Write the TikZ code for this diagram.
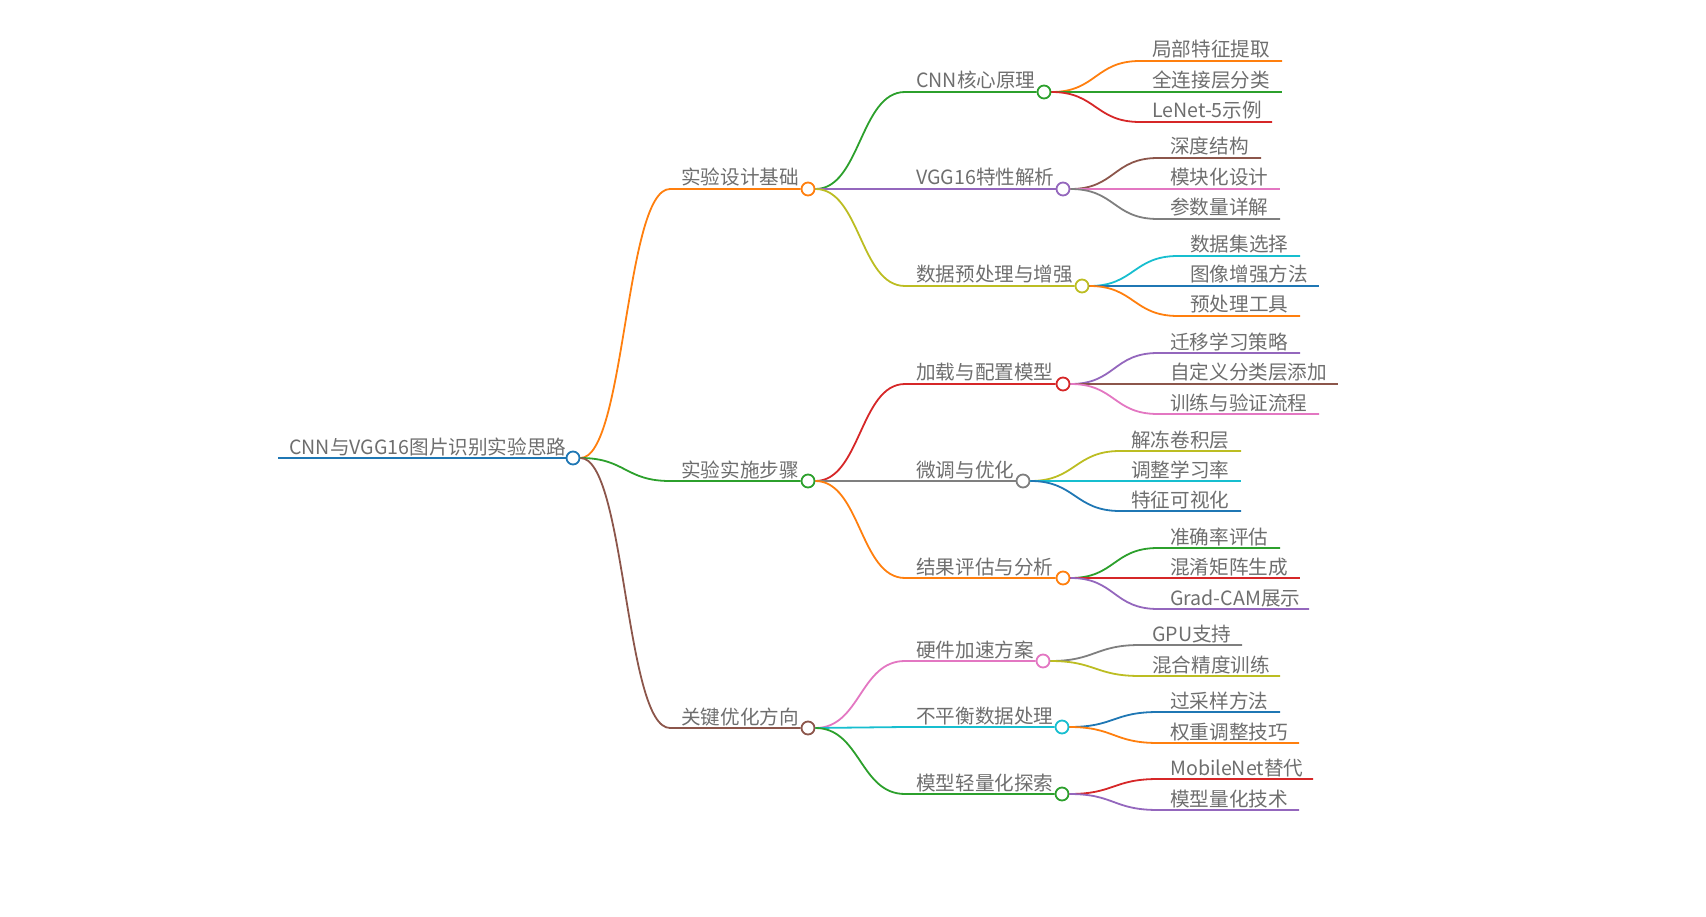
\documentclass[tikz,border=0pt]{standalone}
\usepackage{fontspec}
\setmainfont{Noto Sans CJK SC}
\usepackage{tikz}
\usetikzlibrary{positioning}
\definecolor{mmblue}{HTML}{1F77B4}
\definecolor{mmorange}{HTML}{FF7F0E}
\definecolor{mmgreen}{HTML}{2CA02C}
\definecolor{mmred}{HTML}{D62728}
\definecolor{mmpurple}{HTML}{9467BD}
\definecolor{mmbrown}{HTML}{8C564B}
\definecolor{mmpink}{HTML}{E377C2}
\definecolor{mmgray}{HTML}{7F7F7F}
\definecolor{mmolive}{HTML}{BCBD22}
\definecolor{mmcyan}{HTML}{17BECF}
\definecolor{txtgray}{HTML}{6E6E6E}
\tikzset{
  lbl/.style={text=txtgray, font=\fontsize{19.6}{22}\selectfont, inner sep=0pt, anchor=base west, yshift=-2pt},
  dot/.style={circle, draw=#1, fill=white, line width=1.8pt, minimum size=13pt, inner sep=0pt},
  edge/.style={draw=#1, line width=1.8pt},
}

\begin{document}
\begin{tikzpicture}[x=1pt, y=-1pt]
    \useasboundingbox (0,0) rectangle (1706,917);

      % root
      \node[lbl] (root) at (289,452) {CNN与VGG16图片识别实验思路};
      \coordinate (root-s) at (278,458);
      \node[dot=mmblue] (root-c) at (573,458) {};

      % first level
      \node[lbl] (base) at (681,183) {实验设计基础};
      \coordinate (base-s) at (670,189);
      \node[dot=mmorange] (base-c) at (808,189) {};
      \node[lbl] (impl) at (681,475) {实验实施步骤};
      \coordinate (impl-s) at (670,481);
      \node[dot=mmgreen] (impl-c) at (808,481) {};
      \node[lbl] (opt) at (681,722) {关键优化方向};
      \coordinate (opt-s) at (670,728);
      \node[dot=mmbrown] (opt-c) at (808,728) {};

      % second level
      \node[lbl] (cnn) at (916,86) {CNN核心原理};
      \coordinate (cnn-s) at (905,92);
      \node[dot=mmgreen] (cnn-c) at (1044,92) {};
      \node[lbl] (vgg) at (916,183) {VGG16特性解析};
      \coordinate (vgg-s) at (905,189);
      \node[dot=mmpurple] (vgg-c) at (1063,189) {};
      \node[lbl] (prep) at (916,280) {数据预处理与增强};
      \coordinate (prep-s) at (905,286);
      \node[dot=mmolive] (prep-c) at (1082,286) {};
      \node[lbl] (load) at (916,378) {加载与配置模型};
      \coordinate (load-s) at (905,384);
      \node[dot=mmred] (load-c) at (1063,384) {};
      \node[lbl] (tune) at (916,475) {微调与优化};
      \coordinate (tune-s) at (905,481);
      \node[dot=mmgray] (tune-c) at (1023,481) {};
      \node[lbl] (eval) at (916,572) {结果评估与分析};
      \coordinate (eval-s) at (905,578);
      \node[dot=mmorange] (eval-c) at (1063,578) {};
      \node[lbl] (hw) at (916,655) {硬件加速方案};
      \coordinate (hw-s) at (905,661);
      \node[dot=mmpink] (hw-c) at (1043,661) {};
      \node[lbl] (imb) at (916,721) {不平衡数据处理};
      \coordinate (imb-s) at (905,727);
      \node[dot=mmcyan] (imb-c) at (1062,727) {};
      \node[lbl] (lite) at (916,788) {模型轻量化探索};
      \coordinate (lite-s) at (905,794);
      \node[dot=mmgreen] (lite-c) at (1062,794) {};

      % leaves of CNN
      \node[lbl] (feat) at (1152,55) {局部特征提取};
      \coordinate (feat-s) at (1140,61); \coordinate (feat-e) at (1282,61);
      \node[lbl] (fc) at (1152,86) {全连接层分类};
      \coordinate (fc-s) at (1140,92); \coordinate (fc-e) at (1282,92);
      \node[lbl] (lenet) at (1152,116) {LeNet-5示例};
      \coordinate (lenet-s) at (1140,122); \coordinate (lenet-e) at (1272,122);

      % leaves of VGG16
      \node[lbl] (depth) at (1170,152) {深度结构};
      \coordinate (depth-s) at (1158,158); \coordinate (depth-e) at (1261,158);
      \node[lbl] (module) at (1170,183) {模块化设计};
      \coordinate (module-s) at (1158,189); \coordinate (module-e) at (1280,189);
      \node[lbl] (params) at (1170,213) {参数量详解};
      \coordinate (params-s) at (1158,219); \coordinate (params-e) at (1280,219);

      % leaves of preprocessing
      \node[lbl] (dataset) at (1190,250) {数据集选择};
      \coordinate (dataset-s) at (1178,256); \coordinate (dataset-e) at (1300,256);
      \node[lbl] (aug) at (1190,280) {图像增强方法};
      \coordinate (aug-s) at (1178,286); \coordinate (aug-e) at (1319,286);
      \node[lbl] (tools) at (1190,310) {预处理工具};
      \coordinate (tools-s) at (1178,316); \coordinate (tools-e) at (1300,316);

      % leaves of loading
      \node[lbl] (transfer) at (1170,347) {迁移学习策略};
      \coordinate (transfer-s) at (1158,353); \coordinate (transfer-e) at (1300,353);
      \node[lbl] (head) at (1170,378) {自定义分类层添加};
      \coordinate (head-s) at (1158,384); \coordinate (head-e) at (1338,384);
      \node[lbl] (train) at (1170,408) {训练与验证流程};
      \coordinate (train-s) at (1158,414); \coordinate (train-e) at (1319,414);

      % leaves of fine-tuning
      \node[lbl] (unfreeze) at (1131,445) {解冻卷积层};
      \coordinate (unfreeze-s) at (1120,451); \coordinate (unfreeze-e) at (1241,451);
      \node[lbl] (lr) at (1131,475) {调整学习率};
      \coordinate (lr-s) at (1120,481); \coordinate (lr-e) at (1241,481);
      \node[lbl] (vis) at (1131,505) {特征可视化};
      \coordinate (vis-s) at (1120,511); \coordinate (vis-e) at (1241,511);

      % leaves of evaluation
      \node[lbl] (acc) at (1170,542) {准确率评估};
      \coordinate (acc-s) at (1158,548); \coordinate (acc-e) at (1280,548);
      \node[lbl] (confmat) at (1170,572) {混淆矩阵生成};
      \coordinate (confmat-s) at (1158,578); \coordinate (confmat-e) at (1300,578);
      \node[lbl] (gradcam) at (1170,603) {Grad-CAM展示};
      \coordinate (gradcam-s) at (1158,609); \coordinate (gradcam-e) at (1309,609);

      % leaves of hardware
      \node[lbl] (gpu) at (1152,639) {GPU支持};
      \coordinate (gpu-s) at (1140,645); \coordinate (gpu-e) at (1242,645);
      \node[lbl] (amp) at (1152,670) {混合精度训练};
      \coordinate (amp-s) at (1140,676); \coordinate (amp-e) at (1280,676);

      % leaves of imbalance
      \node[lbl] (oversample) at (1170,706) {过采样方法};
      \coordinate (oversample-s) at (1158,712); \coordinate (oversample-e) at (1280,712);
      \node[lbl] (weight) at (1170,737) {权重调整技巧};
      \coordinate (weight-s) at (1158,743); \coordinate (weight-e) at (1299,743);

      % leaves of lightweight models
      \node[lbl] (mobilenet) at (1170,773) {MobileNet替代};
      \coordinate (mobilenet-s) at (1158,779); \coordinate (mobilenet-e) at (1313,779);
      \node[lbl] (quant) at (1170,804) {模型量化技术};
      \coordinate (quant-s) at (1158,810); \coordinate (quant-e) at (1299,810);

      % connectors
      \draw[edge=mmblue] (root-s) -- (root-c.west);

      \draw[edge=mmorange] (root-c.east) .. controls +(45,0) and +(-45,0) .. (base-s) -- (base-c.west);
      \draw[edge=mmgreen] (root-c.east) .. controls +(45,0) and +(-45,0) .. (impl-s) -- (impl-c.west);
      \draw[edge=mmbrown] (root-c.east) .. controls +(45,0) and +(-45,0) .. (opt-s) -- (opt-c.west);

      \draw[edge=mmgreen] (base-c.east) .. controls +(45,0) and +(-45,0) .. (cnn-s) -- (cnn-c.west);
      \draw[edge=mmpurple] (base-c.east) .. controls +(45,0) and +(-45,0) .. (vgg-s) -- (vgg-c.west);
      \draw[edge=mmolive] (base-c.east) .. controls +(45,0) and +(-45,0) .. (prep-s) -- (prep-c.west);
      \draw[edge=mmred] (impl-c.east) .. controls +(45,0) and +(-45,0) .. (load-s) -- (load-c.west);
      \draw[edge=mmgray] (impl-c.east) .. controls +(45,0) and +(-45,0) .. (tune-s) -- (tune-c.west);
      \draw[edge=mmorange] (impl-c.east) .. controls +(45,0) and +(-45,0) .. (eval-s) -- (eval-c.west);
      \draw[edge=mmpink] (opt-c.east) .. controls +(45,0) and +(-45,0) .. (hw-s) -- (hw-c.west);
      \draw[edge=mmcyan] (opt-c.east) .. controls +(45,0) and +(-45,0) .. (imb-s) -- (imb-c.west);
      \draw[edge=mmgreen] (opt-c.east) .. controls +(45,0) and +(-45,0) .. (lite-s) -- (lite-c.west);

      \draw[edge=mmorange] (cnn-c.east) .. controls +(45,0) and +(-45,0) .. (feat-s) -- (feat-e);
      \draw[edge=mmgreen] (cnn-c.east) .. controls +(45,0) and +(-45,0) .. (fc-s) -- (fc-e);
      \draw[edge=mmred] (cnn-c.east) .. controls +(45,0) and +(-45,0) .. (lenet-s) -- (lenet-e);

      \draw[edge=mmbrown] (vgg-c.east) .. controls +(45,0) and +(-45,0) .. (depth-s) -- (depth-e);
      \draw[edge=mmpink] (vgg-c.east) .. controls +(45,0) and +(-45,0) .. (module-s) -- (module-e);
      \draw[edge=mmgray] (vgg-c.east) .. controls +(45,0) and +(-45,0) .. (params-s) -- (params-e);

      \draw[edge=mmcyan] (prep-c.east) .. controls +(45,0) and +(-45,0) .. (dataset-s) -- (dataset-e);
      \draw[edge=mmblue] (prep-c.east) .. controls +(45,0) and +(-45,0) .. (aug-s) -- (aug-e);
      \draw[edge=mmorange] (prep-c.east) .. controls +(45,0) and +(-45,0) .. (tools-s) -- (tools-e);

      \draw[edge=mmpurple] (load-c.east) .. controls +(45,0) and +(-45,0) .. (transfer-s) -- (transfer-e);
      \draw[edge=mmbrown] (load-c.east) .. controls +(45,0) and +(-45,0) .. (head-s) -- (head-e);
      \draw[edge=mmpink] (load-c.east) .. controls +(45,0) and +(-45,0) .. (train-s) -- (train-e);

      \draw[edge=mmolive] (tune-c.east) .. controls +(45,0) and +(-45,0) .. (unfreeze-s) -- (unfreeze-e);
      \draw[edge=mmcyan] (tune-c.east) .. controls +(45,0) and +(-45,0) .. (lr-s) -- (lr-e);
      \draw[edge=mmblue] (tune-c.east) .. controls +(45,0) and +(-45,0) .. (vis-s) -- (vis-e);

      \draw[edge=mmgreen] (eval-c.east) .. controls +(45,0) and +(-45,0) .. (acc-s) -- (acc-e);
      \draw[edge=mmred] (eval-c.east) .. controls +(45,0) and +(-45,0) .. (confmat-s) -- (confmat-e);
      \draw[edge=mmpurple] (eval-c.east) .. controls +(45,0) and +(-45,0) .. (gradcam-s) -- (gradcam-e);

      \draw[edge=mmgray] (hw-c.east) .. controls +(45,0) and +(-45,0) .. (gpu-s) -- (gpu-e);
      \draw[edge=mmolive] (hw-c.east) .. controls +(45,0) and +(-45,0) .. (amp-s) -- (amp-e);

      \draw[edge=mmblue] (imb-c.east) .. controls +(45,0) and +(-45,0) .. (oversample-s) -- (oversample-e);
      \draw[edge=mmorange] (imb-c.east) .. controls +(45,0) and +(-45,0) .. (weight-s) -- (weight-e);

      \draw[edge=mmred] (lite-c.east) .. controls +(45,0) and +(-45,0) .. (mobilenet-s) -- (mobilenet-e);
      \draw[edge=mmpurple] (lite-c.east) .. controls +(45,0) and +(-45,0) .. (quant-s) -- (quant-e);
    \end{tikzpicture}
\end{document}
